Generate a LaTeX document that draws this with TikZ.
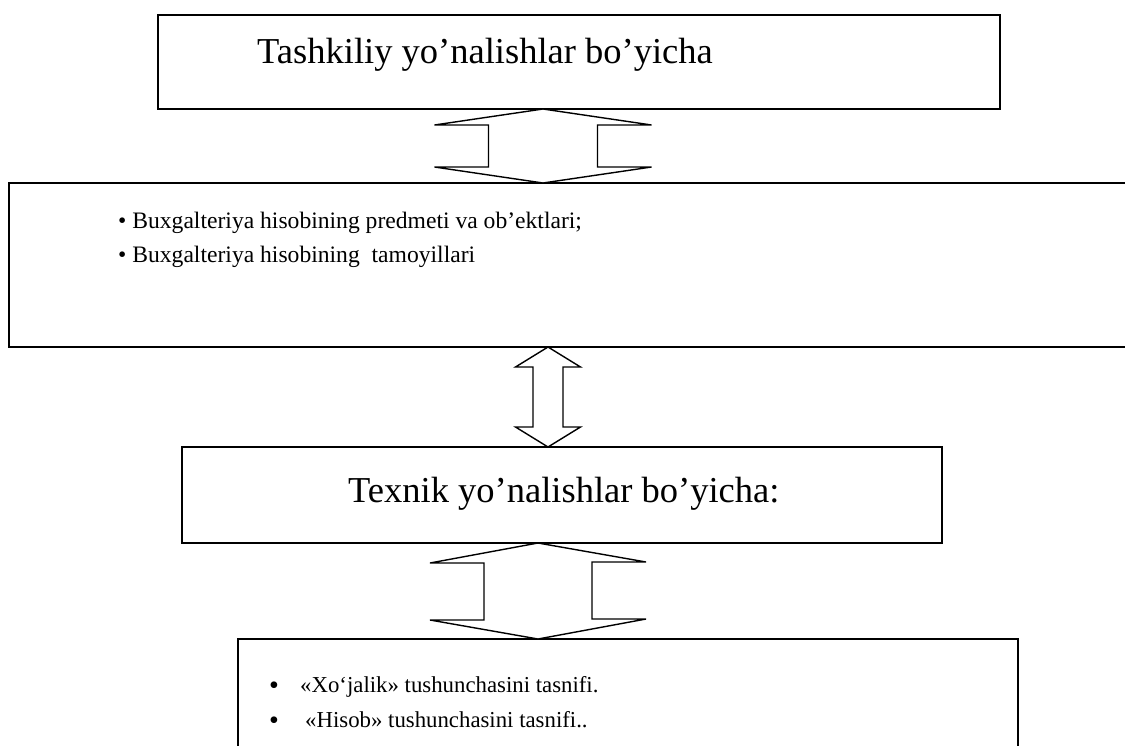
\documentclass[tikz,border=0pt]{standalone}
\usepackage{fontspec}
\setmainfont{Liberation Serif}
\begin{document}
\begin{tikzpicture}[x=1pt,y=-1pt,
  box/.style={draw=black,line width=1.5pt,fill=none},
  blockarrow/.style={draw=black,line width=1.4pt,fill=white,line join=miter},
  big/.style={font=\fontsize{36.5}{42}\selectfont,inner sep=0pt,anchor=base west},
  small/.style={font=\fontsize{23.6}{28}\selectfont,inner sep=0pt,anchor=base west},
  smaller/.style={font=\fontsize{22.8}{27}\selectfont,inner sep=0pt,anchor=base west},
  bul/.style={font=\fontsize{28}{30}\selectfont,inner sep=0pt,anchor=base west}]
\useasboundingbox (0,0) rectangle (1125,745);
\clip (0,0) rectangle (1125,745);
% boxes
\draw[box] (158,15) rectangle (1000,109);
\coordinate (b1s) at (543,109);
\draw[box] (9,183) rectangle (1140,347);
\coordinate (b2n) at (543,183);
\coordinate (b2s) at (548,347);
\draw[box] (182,447) rectangle (942,543);
\coordinate (b3n) at (548,447);
\coordinate (b3s) at (538,543);
\draw[box] (238,639) rectangle (1018,770);
\coordinate (b4n) at (538,639);
% texts
\node[big] (t1) at (257,63) {Tashkiliy yo’nalishlar bo’yicha};
\node[small] (t2a) at (118,228) {• Buxgalteriya hisobining predmeti va ob’ektlari;};
\node[small] (t2b) at (118,262) {• Buxgalteriya hisobining\ \ tamoyillari};
\node[big] (t3) at (348,502) {Texnik yo’nalishlar bo’yicha:};
\node[bul] (t4ab) at (269,694) {•};
\node[smaller] (t4a) at (300,692) {«Xo‘jalik» tushunchasini tasnifi.};
\node[bul] (t4bb) at (269,729) {•};
\node[smaller] (t4b) at (305,727) {«Hisob» tushunchasini tasnifi..};
% block arrows
\draw[blockarrow] (b1s) -- ++(108.5,16) -- ++(-54,0) -- ++(0,42) -- ++(54,0)
  -- (b2n) -- ++(-108.5,-16) -- ++(54,0) -- ++(0,-42) -- ++(-54,0) -- cycle;
\draw[blockarrow] (b2s) -- ++(32.5,20) -- ++(-17.5,0) -- ++(0,60) -- ++(17.5,0)
  -- (b3n) -- ++(-32.5,-20) -- ++(17.5,0) -- ++(0,-60) -- ++(-17.5,0) -- cycle;
\draw[blockarrow] (b3s) -- ++(108,19) -- ++(-54,0) -- ++(0,57) -- ++(54,0)
  -- (b4n) -- ++(-108,-19) -- ++(54,0) -- ++(0,-57) -- ++(-54,0) -- cycle;
\end{tikzpicture}
\end{document}
